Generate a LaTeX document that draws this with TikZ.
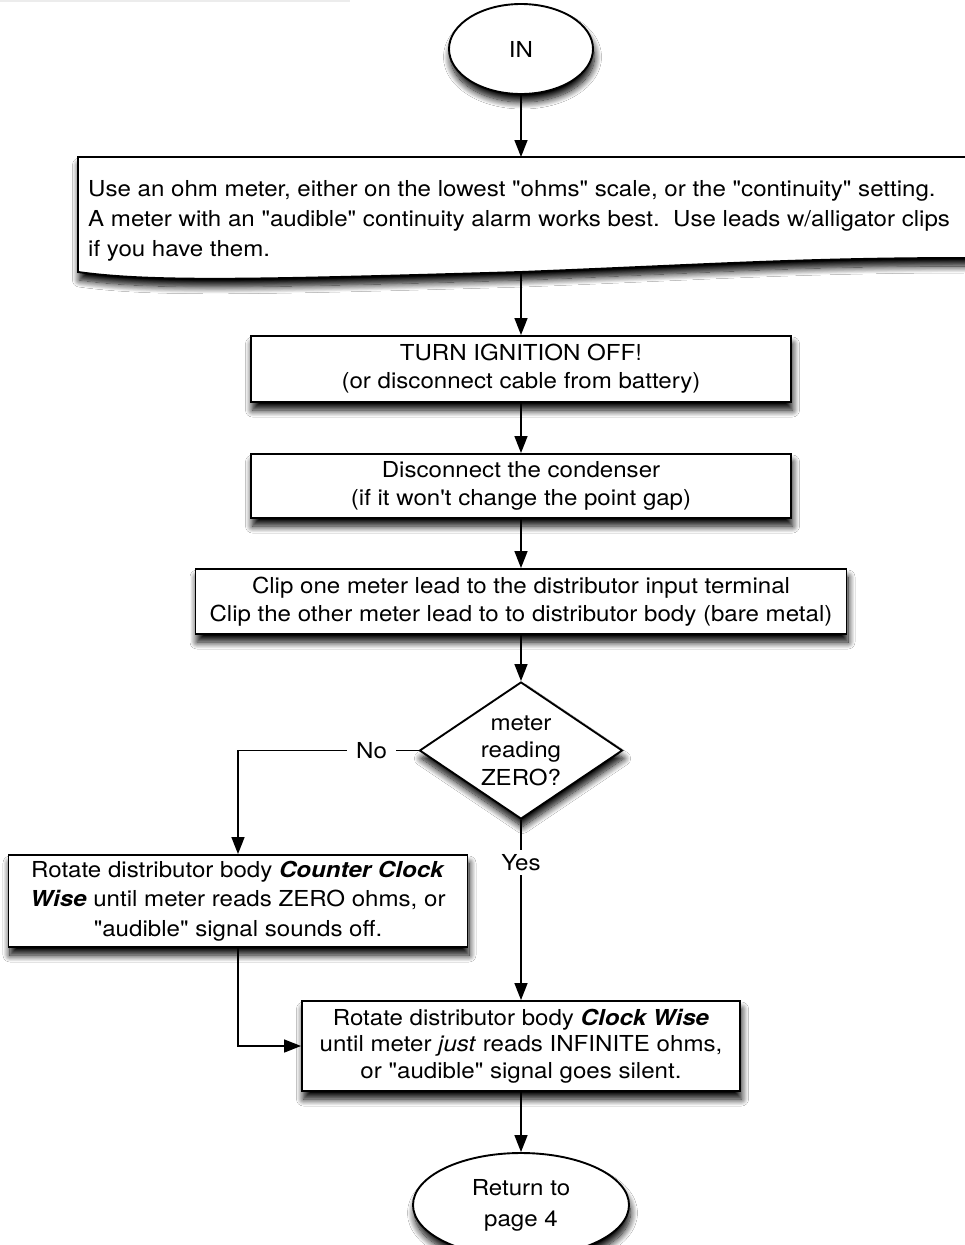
\documentclass[tikz,border=0pt]{standalone}
\usepackage{fontspec}
\setmainfont{TeX Gyre Heros}[FakeStretch=1.095, Ligatures=TeXOff]
\usetikzlibrary{arrows.meta,shapes.geometric,shadows.blur}
\tikzset{
  base/.style={draw=black, line width=1.9pt, fill=white,
    blur shadow={shadow xshift=1.5pt, shadow yshift=-8pt, shadow blur radius=7pt, shadow blur steps=12, shadow opacity=100}},
  box/.style={base, rectangle, align=center, inner sep=0pt, font=\fontsize{22}{28}\selectfont},
  term/.style={base, ellipse, align=center, inner sep=0pt, font=\fontsize{22}{31}\selectfont},
  decision/.style={base, diamond, inner sep=0pt},
  conn/.style={line width=1.5pt, draw=black},
  arr/.style={conn, -{Triangle[length=17pt,width=13pt]}},
  lbl/.style={fill=white, inner xsep=9pt, inner ysep=4pt, font=\fontsize{22}{28}\selectfont},
}
\begin{document}
\begin{tikzpicture}[x=1pt, y=-1pt]
\useasboundingbox (0,0) rectangle (964,1245);
\fill[white] (0,0) rectangle (964,1245);
\draw[gray!15, line width=2pt] (0,1) -- (350,1);

% terminals
\node[term, minimum width=144pt, minimum height=90pt] (in) at (521,49) {IN};

% document shape
\draw[base] (78,157) -- (970,157) -- (970,258) -- (964,258)
  .. controls (800,258) and (700,265) .. (521,272)
  .. controls (250,280) and (150,282) .. (78,272) -- cycle;
\coordinate (docN) at (521,157);
\coordinate (docS) at (521,272);
\node[anchor=west, align=left, inner sep=0pt, font=\fontsize{22}{30}\selectfont] (doctext) at (88,221)
  {Use an ohm meter, either on the lowest "ohms" scale, or the "continuity" setting.\\
   A meter with an "audible" continuity alarm works best.\ \ Use leads w/alligator clips\\
   if you have them.};

\node[box, minimum width=540pt, minimum height=66pt] (b1) at (521,369)
  {TURN IGNITION OFF!\\(or disconnect cable from battery)};
\node[box, minimum width=540pt, minimum height=64pt] (b2) at (521,486)
  {Disconnect the condenser\\(if it won't change the point gap)};
\node[box, minimum width=651pt, minimum height=65pt] (b3) at (521,601.5)
  {Clip one meter lead to the distributor input terminal\\Clip the other meter lead to to distributor body (bare metal)};

\node[decision, minimum width=203pt, minimum height=137pt] (dec) at (521,750.5) {};
\node[align=center, inner sep=0pt, font=\fontsize{22}{27.5}\selectfont] (dectext) at (dec) {meter\\reading\\ZERO?};

\node[box, minimum width=459pt, minimum height=92pt, font=\fontsize{22}{29.5}\selectfont] (b4) at (238,901)
  {Rotate distributor body \textbf{\textit{Counter Clock}}\\\textbf{\textit{Wise}} until meter reads ZERO ohms, or\\"audible" signal sounds off.};
\node[box, minimum width=438pt, minimum height=90pt, font=\fontsize{22}{26.5}\selectfont] (b5) at (521,1046)
  {Rotate distributor body \textbf{\textit{Clock Wise}}\\until meter \textit{just} reads INFINITE ohms,\\or "audible" signal goes silent.};

\node[term, minimum width=216pt, minimum height=104pt] (ret) at (521,1205) {Return to\\page 4};

% connectors
\draw[arr] (in) -- (docN);
\draw[arr] (docS) -- (b1);
\draw[arr] (b1) -- (b2);
\draw[arr] (b2) -- (b3);
\draw[arr] (b3) -- (dec);
\draw[arr] (dec.west) -- node[lbl, pos=0.26] {No} (dec.west -| b4.north) -- (b4.north);
\draw[arr] (dec.south) -- node[lbl, pos=0.236] {Yes} (b5.north);
\draw[arr] (b4.south) |- (b5.west);
\draw[arr] (b5) -- (ret);
\end{tikzpicture}
\end{document}
